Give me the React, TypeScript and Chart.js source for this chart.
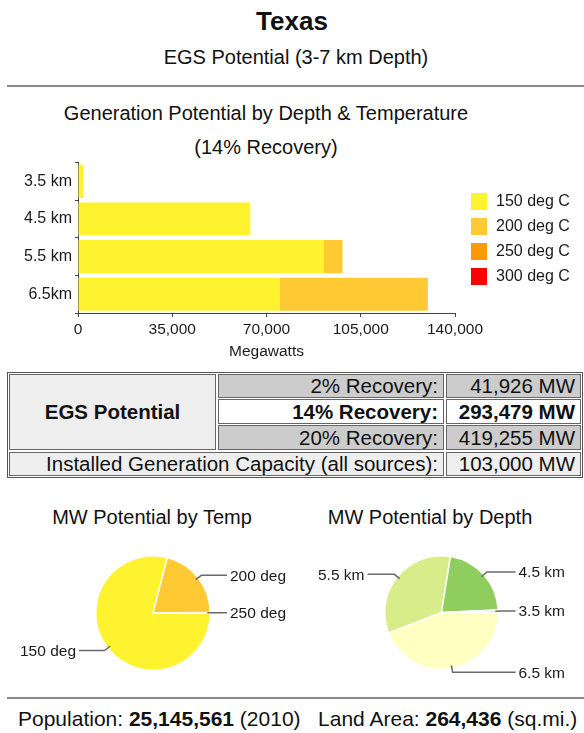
import React, { useEffect, useRef } from 'react';
import { Chart, registerables } from 'chart.js';
Chart.register(...registerables);

// ---------- data ----------
const depthLabels = ['3.5 km', '4.5 km', '5.5 km', '6.5km'];
const tempSeriesLabels = ['150 deg C', '200 deg C', '250 deg C', '300 deg C'];
const mw150 = [2120, 64000, 91350, 75000];
const mw200 = [0, 0, 6850, 54400];
const mw250 = [0, 0, 0, 400];
const mw300 = [0, 0, 0, 0];
const xMin = 0;
const xMax = 140000;
const xStep = 35000;

const tempPieLabels = ['150 deg', '200 deg', '250 deg'];
const tempPieValues = [232470, 61250, 400];
const depthPieLabels = ['6.5 km', '5.5 km', '4.5 km', '3.5 km'];
const depthPieValues = [129800, 98200, 64000, 2120];

const recoveryLabels = ['2% Recovery:', '14% Recovery:', '20% Recovery:'];
const recoveryValues = ['41,926 MW', '293,479 MW', '419,255 MW'];
const installedLabel = 'Installed Generation Capacity (all sources):';
const installedValue = '103,000 MW';
const population = '25,145,561';
const landArea = '264,436';

// ---------- styles ----------
const FONT = "'Liberation Sans', Arial, Helvetica, sans-serif";
const tempColors = ['#FFF22E', '#FFC933', '#FF9900', '#FF0000'];
const depthPieColors = ['#FFFFC2', '#D9EC8A', '#8FCE5E', '#CDEBD8'];

Chart.defaults.font.family = FONT;
Chart.defaults.color = '#1a1a1a';

const sideLegend = {
  id: 'sideLegend',
  afterDraw(chart: any) {
    const ctx = chart.ctx;
    ctx.save();
    ctx.font = `16px ${FONT}`;
    ctx.textBaseline = 'middle';
    ctx.textAlign = 'left';
    chart.data.datasets.forEach((ds: any, i: number) => {
      const cy = 51 + i * 25;
      ctx.fillStyle = ds.backgroundColor;
      ctx.fillRect(471, cy - 8, 16, 17);
      ctx.fillStyle = '#1a1a1a';
      ctx.fillText(ds.label, 496, cy + 1);
    });
    ctx.restore();
  },
};

const leaderLabels = {
  id: 'leaderLabels',
  afterDraw(chart: any) {
    const ctx = chart.ctx;
    const meta = chart.getDatasetMeta(0);
    const labels = chart.data.labels;
    ctx.save();
    ctx.font = `15.5px ${FONT}`;
    ctx.textBaseline = 'middle';
    meta.data.forEach((arc: any, i: number) => {
      const p = arc.getProps(['x', 'y', 'startAngle', 'endAngle', 'outerRadius'], true);
      const mid = (p.startAngle + p.endAngle) / 2;
      const c = Math.cos(mid);
      const s = Math.sin(mid);
      const x1 = p.x + c * (p.outerRadius - 3);
      const y1 = p.y + s * (p.outerRadius - 3);
      const x2 = p.x + c * (p.outerRadius + 4);
      const y2 = p.y + s * (p.outerRadius + 4);
      const right = c >= -0.01;
      const lx = right ? p.x + 74 : p.x - 74;
      ctx.strokeStyle = '#6a6a6a';
      ctx.lineWidth = 1.5;
      ctx.beginPath();
      ctx.moveTo(x1, y1);
      ctx.lineTo(x2, y2);
      ctx.lineTo(lx, y2);
      ctx.stroke();
      ctx.fillStyle = '#1a1a1a';
      ctx.textAlign = right ? 'left' : 'right';
      ctx.fillText(labels[i], right ? lx + 3 : lx - 3, y2 + 1);
    });
    ctx.restore();
  },
};

function BarChart() {
  const ref = useRef<HTMLCanvasElement>(null);
  useEffect(() => {
    const series = [mw150, mw200, mw250, mw300];
    const chart = new Chart(ref.current as HTMLCanvasElement, {
      type: 'bar',
      data: {
        labels: depthLabels,
        datasets: series.map((d, i) => ({
          label: tempSeriesLabels[i],
          data: d,
          backgroundColor: tempColors[i],
          borderWidth: 0,
          categoryPercentage: 1,
          barPercentage: 0.88,
        })),
      },
      options: {
        indexAxis: 'y',
        responsive: false,
        animation: false,
        layout: { padding: { left: 0, top: 12, right: 129, bottom: 0 } },
        plugins: { legend: { display: false }, tooltip: { enabled: false } },
        scales: {
          x: {
            stacked: true,
            min: xMin,
            max: xMax,
            ticks: {
              stepSize: xStep,
              font: { size: 15.5 },
              color: '#1a1a1a',
              padding: 3,
              maxRotation: 0,
              callback: (v: any) => Number(v).toLocaleString('en-US'),
            },
            grid: { drawOnChartArea: false, drawTicks: true, tickLength: 4, color: '#444' },
            border: { display: true, color: '#444', width: 1 },
            title: { display: true, text: 'Megawatts', font: { size: 15.5 }, color: '#1a1a1a', padding: 4 },
            afterFit: (scale: any) => { scale.height = 52; },
          },
          y: {
            stacked: true,
            ticks: { font: { size: 16 }, color: '#1a1a1a', padding: 3 },
            grid: { drawOnChartArea: false, drawTicks: true, tickLength: 3, color: '#444' },
            border: { display: true, color: '#444', width: 1 },
            afterFit: (scale: any) => { scale.width = 78; },
          },
        },
      },
      plugins: [sideLegend],
    } as any);
    return () => chart.destroy();
  }, []);
  return (
    <canvas ref={ref} width={584} height={215}
      style={{ position: 'absolute', left: 0, top: 150, width: 584, height: 215 }} />
  );
}

function PieChart(props: { labels: string[]; values: number[]; colors: string[]; left: number; pad: any }) {
  const ref = useRef<HTMLCanvasElement>(null);
  useEffect(() => {
    const chart = new Chart(ref.current as HTMLCanvasElement, {
      type: 'pie',
      data: {
        labels: props.labels,
        datasets: [{ data: props.values, backgroundColor: props.colors, borderColor: '#ffffff', borderWidth: 1.5 }],
      },
      options: {
        responsive: false,
        animation: false,
        rotation: 90,
        layout: { padding: props.pad },
        plugins: { legend: { display: false }, tooltip: { enabled: false } },
      },
      plugins: [leaderLabels],
    } as any);
    return () => chart.destroy();
  }, []);
  return (
    <canvas ref={ref} width={292} height={150}
      style={{ position: 'absolute', left: props.left, top: 540, width: 292, height: 150 }} />
  );
}

function Text(props: { cx?: number; x?: number; cy: number; size: number; bold?: boolean; children: any }) {
  const style: any = {
    position: 'absolute',
    top: props.cy,
    transform: 'translateY(-50%)',
    fontSize: props.size,
    fontWeight: props.bold ? 'bold' : 'normal',
    whiteSpace: 'nowrap',
    color: '#111',
    lineHeight: 1.15,
  };
  if (props.cx !== undefined) {
    style.left = props.cx - 300;
    style.width = 600;
    style.textAlign = 'center';
  } else {
    style.left = props.x;
  }
  return <div style={style}>{props.children}</div>;
}

function Cell(props: { x: number; y: number; w: number; h: number; bg: string; bold?: boolean; align: string; children: any }) {
  return (
    <div style={{
      position: 'absolute', left: props.x, top: props.y, width: props.w, height: props.h,
      boxSizing: 'border-box', border: '1px solid #666', background: props.bg,
      display: 'flex', alignItems: 'center',
      justifyContent: props.align === 'center' ? 'center' : 'flex-end',
      paddingRight: props.align === 'center' ? 0 : 5,
      fontSize: 20.5, fontWeight: props.bold ? 'bold' : 'normal', color: '#111', whiteSpace: 'nowrap',
    }}>{props.children}</div>
  );
}

export default function App() {
  const rowY = [374, 399, 425];
  const rowH = [24, 25, 25];
  const rowBg = ['#CCCCCC', '#FFFFFF', '#CCCCCC'];
  return (
    <div style={{ position: 'absolute', left: 0, top: 0, width: 584, height: 733, background: '#fff', fontFamily: FONT, overflow: 'hidden' }}>
      <Text cx={292} cy={22} size={26} bold>Texas</Text>
      <Text cx={296} cy={57} size={20}>EGS Potential (3-7 km Depth)</Text>
      <div style={{ position: 'absolute', left: 7, top: 85, width: 577, height: 2, background: '#8a8a8a' }} />

      <Text cx={266} cy={113} size={20}>Generation Potential by Depth &amp; Temperature</Text>
      <Text cx={266} cy={147} size={20}>(14% Recovery)</Text>
      <BarChart />

      <div style={{ position: 'absolute', left: 7, top: 372, width: 576, height: 106, boxSizing: 'border-box', border: '1px solid #555', background: '#fff' }} />
      <Cell x={9} y={374} w={207} h={76} bg="#EEEEEE" bold align="center">EGS Potential</Cell>
      {recoveryLabels.map((l, i) => (
        <Cell key={'l' + i} x={218} y={rowY[i]} w={226} h={rowH[i]} bg={rowBg[i]} bold={i === 1} align="right">{l}</Cell>
      ))}
      {recoveryValues.map((v, i) => (
        <Cell key={'v' + i} x={446} y={rowY[i]} w={135} h={rowH[i]} bg={rowBg[i]} bold={i === 1} align="right">{v}</Cell>
      ))}
      <Cell x={9} y={452} w={435} h={24} bg="#EEEEEE" align="right">{installedLabel}</Cell>
      <Cell x={446} y={452} w={135} h={24} bg="#EEEEEE" align="right">{installedValue}</Cell>

      <Text cx={152} cy={517} size={20}>MW Potential by Temp</Text>
      <Text cx={430} cy={517} size={20}>MW Potential by Depth</Text>
      <PieChart labels={tempPieLabels} values={tempPieValues} colors={tempColors}
        left={0} pad={{ left: 95, top: 15, right: 81, bottom: 19 }} />
      <PieChart labels={depthPieLabels} values={depthPieValues} colors={depthPieColors}
        left={292} pad={{ left: 92, top: 15, right: 85, bottom: 20 }} />

      <div style={{ position: 'absolute', left: 7, top: 697, width: 577, height: 2, background: '#8a8a8a' }} />
      <Text x={18} cy={719} size={21}>
        Population: <b>{population}</b> (2010)&nbsp;&nbsp; Land Area: <b>{landArea}</b> (sq.mi.)
      </Text>
    </div>
  );
}
